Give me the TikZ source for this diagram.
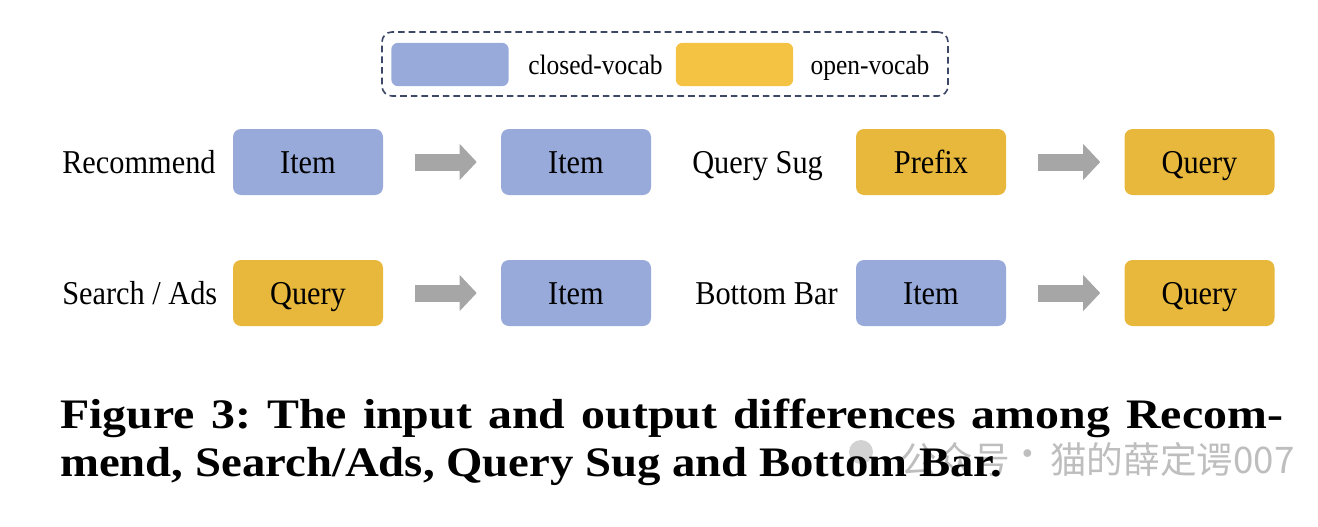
\documentclass[tikz,border=0pt]{standalone}
\usepackage{graphicx}
\usepackage{fontspec}
\setmainfont{Liberation Serif}
\newfontfamily\cjkfont{Noto Sans CJK SC}
\usetikzlibrary{arrows.meta}
\definecolor{cblue}{HTML}{97AAD9}
\definecolor{cyel}{HTML}{E8B83D}
\definecolor{lyel}{HTML}{F5C344}
\definecolor{agray}{HTML}{A6A6A6}
\definecolor{dashc}{HTML}{3D4766}
\definecolor{wmark}{HTML}{BEBEBE}
\newcommand\condtxt[1]{\scalebox{0.91}[1]{#1}}
\frenchspacing
\begin{document}
\begin{tikzpicture}[x=0.75pt,y=-0.75pt,
  box/.style={minimum width=112.5pt, minimum height=49.5pt, rounded corners=6pt,
    inner sep=0pt, text height=16.5pt, text depth=0pt, font=\fontsize{25}{30}\selectfont},
  bluebox/.style={box, fill=cblue},
  yelbox/.style={box, fill=cyel},
  lab/.style={anchor=west, inner sep=0pt, text height=16.5pt, text depth=0pt,
    font=\fontsize{25}{30}\selectfont},
  swatch/.style={minimum width=88pt, minimum height=32.5pt, rounded corners=5pt, inner sep=0pt},
  legtxt/.style={inner sep=0pt, text height=14pt, text depth=0pt, font=\fontsize{21}{25}\selectfont},
  blockarrow/.style={draw=agray, line width=12.75pt,
    -{Triangle[length=12.75pt,width=26.25pt,fill=agray]},
    shorten <=24pt, shorten >=18pt},
  captxt/.style={anchor=base west, inner sep=0pt, font=\fontsize{31.5}{38}\selectfont\bfseries},
  wmtxt/.style={anchor=west, inner sep=0pt, text=wmark, font=\cjkfont\fontsize{27.5}{32}\selectfont}
]
\useasboundingbox (0,0) rectangle (1318,526);

% legend
\node[draw=dashc, dash pattern=on 5pt off 3pt, line width=1.2pt, rounded corners=7.5pt,
  minimum width=424.5pt, minimum height=48pt, inner sep=0pt] (legend) at (665,64) {};
\node[swatch, fill=cblue] (sw1) at (450,64.5) {};
\node[legtxt] (lt1) at (595.5,65) {\condtxt{closed-vocab}};
\node[swatch, fill=lyel] (sw2) at (734.5,64.5) {};
\node[legtxt] (lt2) at (870,65) {\condtxt{open-vocab}};

% row 1
\node[lab] (l1) at (62,162) {\condtxt{Recommend}};
\node[bluebox] (a1) at (308,162) {\condtxt{Item}};
\node[bluebox] (b1) at (576,162) {\condtxt{Item}};
\node[lab] (l2) at (692,162) {\condtxt{Query Sug}};
\node[yelbox] (c1) at (931,162) {\condtxt{Prefix}};
\node[yelbox] (d1) at (1199.5,162) {\condtxt{Query}};

% row 2
\node[lab] (l3) at (62,293) {\condtxt{Search / Ads}};
\node[yelbox] (a2) at (308,293) {\condtxt{Query}};
\node[bluebox] (b2) at (576,293) {\condtxt{Item}};
\node[lab] (l4) at (695,293) {\condtxt{Bottom Bar}};
\node[bluebox] (c2) at (931,293) {\condtxt{Item}};
\node[yelbox] (d2) at (1199.5,293) {\condtxt{Query}};

% arrows
\draw[blockarrow] (a1) -- (b1);
\draw[blockarrow] (c1) -- (d1);
\draw[blockarrow] (a2) -- (b2);
\draw[blockarrow] (c2) -- (d2);

% watermark
\fill[wmark!70!white] (861,452) circle[radius=9pt];
\node[wmtxt] (wm1) at (900,459) {公众号};
\node[wmtxt, anchor=center] (wm2) at (1028,459) {·};
\node[wmtxt] (wm3) at (1050,459) {猫的薛定谔007};

% caption
\node[captxt] (cap1) at (60,428) {\scalebox{1.14}[1]{\makebox[804.6pt][s]{Figure 3: The input and output differences among Recom-}}};
\node[captxt] (cap2) at (60,476) {\scalebox{1.113}[1]{mend, Search/Ads, Query Sug and Bottom Bar.}};
\end{tikzpicture}
\end{document}
